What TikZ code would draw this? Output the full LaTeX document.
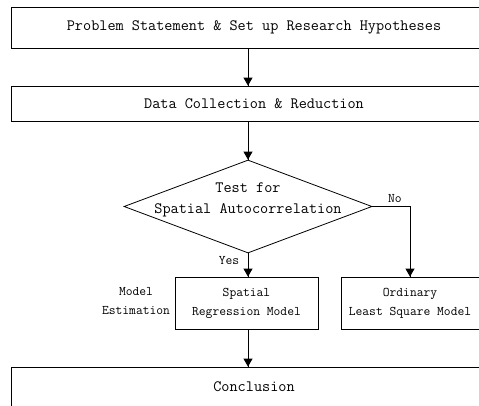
\documentclass[tikz,border=0pt]{standalone}
\usepackage{fontspec}
\usepackage{tikz}
\usetikzlibrary{arrows}
\usetikzlibrary{decorations.markings}
\usetikzlibrary{shapes.geometric}
\usetikzlibrary{positioning}
\tikzset{->/.style = {decoration={markings,
                                  mark=at position 1 with {\arrow[scale=1.2]{triangle 60}}},
                      postaction={decorate}}}
\tikzset{bigtext/.style = {font=\fontsize{15.8}{21}\selectfont\ttfamily}}
\tikzset{smalltext/.style = {font=\fontsize{13.2}{19}\selectfont\ttfamily}}
\tikzset{stagebox/.style = {draw, line width=0.8pt, inner sep=0, align=center}}

\begin{document}
\begin{tikzpicture}[x=1pt, y=-1pt, line width=0.8pt]
      \useasboundingbox (0, 0) rectangle (479, 405);
      \clip (0, 0) rectangle (479, 405);

      \node [stagebox, bigtext, minimum width=486, minimum height=41] (problem) at (254, 27.5)
            {Problem Statement \& Set up Research Hypotheses};
      \node [stagebox, bigtext, minimum width=486, minimum height=35] (data) at (254, 103.5)
            {Data Collection \& Reduction};

      \node [diamond, draw, inner sep=0, minimum width=248, minimum height=93] (test) at (248, 206.5) {};
      \node [bigtext, align=center] (testlabel) at (248, 200) {Test for\\Spatial Autocorrelation};

      \node [stagebox, smalltext, minimum width=143, minimum height=52] (spatial) at (246.5, 303)
            {Spatial\\Regression Model};
      \node [stagebox, smalltext, minimum width=138, minimum height=52] (ols) at (410, 303)
            {Ordinary\\Least Square Model};
      \node [smalltext, align=center] (estim) at (136, 301) {Model\\Estimation};

      \node [stagebox, bigtext, minimum width=486, minimum height=40] (concl) at (254, 387)
            {Conclusion};

      \coordinate (axis) at (248, 0);
      \draw [->] (axis |- problem.south) -- (axis |- data.north);
      \draw [->] (axis |- data.south) -- (test.north);
      \draw [->] (test.south) -- (axis |- spatial.north) node [pos=0.3, left=5pt, smalltext] (yes) {Yes};
      \draw [->] (test.east) -| (ols.north) node [pos=0.3, above, smalltext] (no) {No};
      \draw [->] (axis |- spatial.south) -- (axis |- concl.north);
\end{tikzpicture}
\end{document}
